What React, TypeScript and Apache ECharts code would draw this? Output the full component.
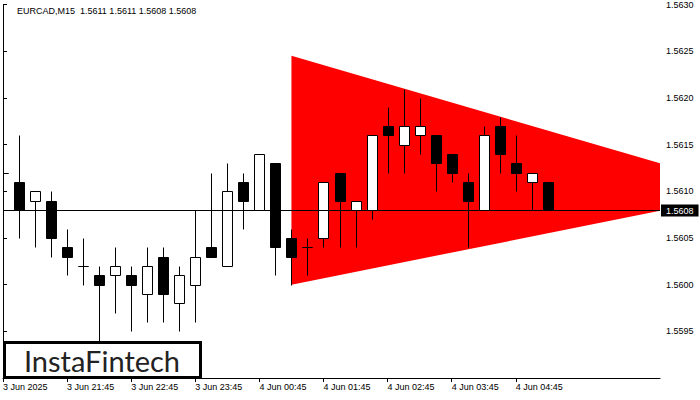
import React, { useEffect, useRef } from "react";
import * as echarts from "echarts";

const symbol = "EURCAD";
const timeframe = "M15";

const opens = [1.5612, 1.5611, 1.5609, 1.5609, 1.5604, 1.5602, 1.5601, 1.5601, 1.5601, 1.5599, 1.5603, 1.5598, 1.5600, 1.5604, 1.5602, 1.5611, 1.5608, 1.5613, 1.5605, 1.5604, 1.5605, 1.5612, 1.5608, 1.5608, 1.5617, 1.5615, 1.5616, 1.5616, 1.5614, 1.5611, 1.5608, 1.5617, 1.5613, 1.5611, 1.5611];
const highs = [1.5614, 1.5616, 1.5610, 1.5610, 1.5606, 1.5605, 1.5602, 1.5604, 1.5602, 1.5604, 1.5604, 1.5602, 1.5608, 1.5612, 1.5613, 1.5612, 1.5614, 1.5613, 1.5606, 1.5605, 1.5611, 1.5612, 1.5609, 1.5616, 1.5619, 1.5621, 1.5620, 1.5616, 1.5614, 1.5612, 1.5617, 1.5618, 1.5616, 1.5612, 1.5611];
const lows = [1.5609, 1.5605, 1.5604, 1.5603, 1.5601, 1.5600, 1.5593, 1.5597, 1.5595, 1.5596, 1.5596, 1.5595, 1.5596, 1.5603, 1.5602, 1.5606, 1.5608, 1.5601, 1.5600, 1.5601, 1.5604, 1.5604, 1.5604, 1.5607, 1.5612, 1.5612, 1.5614, 1.5610, 1.5611, 1.5604, 1.5608, 1.5612, 1.5610, 1.5608, 1.5608];
const closes = [1.5612, 1.5608, 1.5610, 1.5605, 1.5603, 1.5602, 1.5600, 1.5602, 1.5600, 1.5602, 1.5599, 1.5601, 1.5603, 1.5603, 1.5610, 1.5609, 1.5614, 1.5604, 1.5603, 1.5604, 1.5611, 1.5609, 1.5609, 1.5616, 1.5616, 1.5617, 1.5617, 1.5613, 1.5612, 1.5609, 1.5616, 1.5614, 1.5612, 1.5612, 1.5608];

const xTickIndex = [0, 4, 8, 12, 16, 20, 24, 28, 32];
const xTickLabels = ["3 Jun 2025", "3 Jun 21:45", "3 Jun 22:45", "3 Jun 23:45", "4 Jun 00:45", "4 Jun 01:45", "4 Jun 02:45", "4 Jun 03:45", "4 Jun 04:45"];
const yTicks = [1.5595, 1.56, 1.5605, 1.561, 1.5615, 1.562, 1.5625, 1.563];

const patternX = [18, 41];
const patternUpper = [1.56245, 1.5613];
const patternLower = [1.56, 1.56079];
const currentPrice = 1.5608;
const lineSpan = [0, 41];

const FONT = "Liberation Sans, Arial, sans-serif";

export default function App() {
  const ref = useRef<HTMLDivElement>(null);
  useEffect(() => {
    document.body.style.margin = "0";
    const chart = echarts.init(ref.current!, null, { renderer: "svg" });
    const candleData = opens.map((o, i) => [i, o, closes[i], lows[i], highs[i]]);
    const last = opens.length - 1;
    const titleText = `${symbol},${timeframe}\u00a0\u00a0${opens[last].toFixed(4)} ${highs[last].toFixed(4)} ${lows[last].toFixed(4)} ${closes[last].toFixed(4)}`;
    chart.setOption({
      animation: false,
      backgroundColor: "#ffffff",
      title: {
        text: titleText,
        left: 17,
        top: 6,
        padding: 0,
        textStyle: { fontFamily: FONT, fontSize: 9, fontWeight: "normal", color: "#000" },
      },
      grid: { left: 3, right: 40, top: 4, bottom: 22 },
      xAxis: {
        type: "value",
        min: 0,
        max: 41,
        splitLine: { show: false },
        axisLine: { show: true, onZero: false, lineStyle: { color: "#000", width: 1 } },
        axisTick: { show: true, customValues: xTickIndex, length: 4, lineStyle: { color: "#000" } },
        axisLabel: {
          customValues: xTickIndex,
          formatter: (v: number) => {
            const i = xTickIndex.indexOf(Math.round(v));
            return i >= 0 ? xTickLabels[i] : "";
          },
          align: "left",
          margin: 4,
          fontFamily: FONT,
          fontSize: 9,
          color: "#000",
        },
      },
      yAxis: [
        {
          type: "value",
          position: "right",
          min: 1.559,
          max: 1.563,
          interval: 0.0005,
          splitLine: { show: false },
          axisLine: { show: true, lineStyle: { color: "#000", width: 1 } },
          axisTick: { show: true, customValues: yTicks, length: 4, lineStyle: { color: "#000" } },
          axisLabel: {
            customValues: yTicks,
            formatter: (v: number) => v.toFixed(4),
            margin: 6,
            fontFamily: FONT,
            fontSize: 9,
            color: "#000",
          },
        },
        {
          type: "value",
          position: "left",
          min: 1.559,
          max: 1.563,
          splitLine: { show: false },
          axisLine: { show: true, lineStyle: { color: "#000", width: 1 } },
          axisTick: { show: false },
          axisLabel: { show: false },
        },
      ],
      series: [
        {
          type: "custom",
          z: 1,
          clip: true,
          data: patternX.map((x, i) => [x, patternUpper[i], patternLower[i]]),
          encode: { x: 0, y: 1 },
          renderItem: (params: any, api: any) => {
            if (params.dataIndex !== 0) return null;
            const pts = [
              api.coord([patternX[0], patternUpper[0]]),
              api.coord([patternX[1], patternUpper[1]]),
              api.coord([patternX[1], patternLower[1]]),
              api.coord([patternX[0], patternLower[0]]),
            ];
            return { type: "polygon", shape: { points: pts }, style: { fill: "#ff0000" } };
          },
        },
        {
          type: "custom",
          z: 3,
          clip: true,
          data: candleData,
          encode: { x: 0, y: [1, 2, 3, 4] },
          renderItem: (params: any, api: any) => {
            const x = api.value(0);
            const o = api.value(1);
            const c = api.value(2);
            const l = api.value(3);
            const h = api.value(4);
            const pO = api.coord([x, o]);
            const pC = api.coord([x, c]);
            const pH = api.coord([x, h]);
            const pL = api.coord([x, l]);
            const cx = Math.round(pO[0]) + 0.5;
            const half = 5;
            const top = Math.round(Math.min(pO[1], pC[1])) + 0.5;
            const bot = Math.round(Math.max(pO[1], pC[1])) + 0.5;
            const bull = c >= o;
            return {
              type: "group",
              children: [
                {
                  type: "line",
                  shape: { x1: cx, y1: Math.round(pH[1]) + 0.5, x2: cx, y2: Math.round(pL[1]) + 0.5 },
                  style: { stroke: "#000", lineWidth: 1 },
                },
                {
                  type: "rect",
                  shape: { x: cx - half, y: top, width: half * 2, height: bot - top },
                  style: { fill: bull ? "#fff" : "#000", stroke: "#000", lineWidth: 1 },
                },
              ],
            };
          },
        },
        {
          type: "custom",
          z: 4,
          clip: false,
          data: lineSpan.map((x) => [x, currentPrice]),
          encode: { x: 0, y: 1 },
          renderItem: (params: any, api: any) => {
            if (params.dataIndex !== 0) return null;
            const a = api.coord([lineSpan[0], currentPrice]);
            const b = api.coord([lineSpan[1], currentPrice]);
            const y = Math.round(a[1]) + 0.5;
            return {
              type: "group",
              children: [
                {
                  type: "line",
                  shape: { x1: a[0], y1: y, x2: b[0], y2: y },
                  style: { stroke: "#000", lineWidth: 1 },
                },
                {
                  type: "text",
                  x: b[0] + 1,
                  y: y,
                  style: {
                    text: currentPrice.toFixed(4),
                    fill: "#fff",
                    backgroundColor: "#000",
                    padding: [2, 5, 1, 5],
                    align: "left",
                    verticalAlign: "middle",
                    fontFamily: FONT,
                    fontSize: 9,
                  },
                },
              ],
            };
          },
        },
      ],
      graphic: [
        {
          type: "rect",
          z: 100,
          shape: { x: 4.5, y: 342.5, width: 196, height: 35 },
          style: { fill: "#fff", stroke: "#000", lineWidth: 3 },
        },
        {
          type: "text",
          z: 101,
          style: {
            text: "InstaFintech",
            x: 102,
            y: 360,
            align: "center",
            verticalAlign: "middle",
            font: "29px Lato, sans-serif",
            fill: "#222",
          },
        },
      ],
    });
    return () => chart.dispose();
  }, []);
  return <div ref={ref} style={{ width: 700, height: 400 }} />;
}
